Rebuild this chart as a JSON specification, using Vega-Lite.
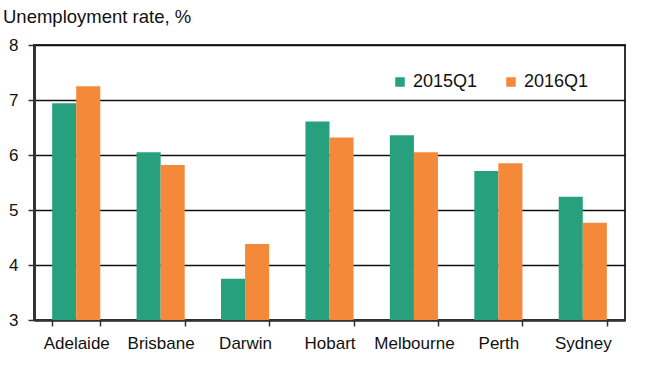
{
  "$schema": "https://vega.github.io/schema/vega-lite/v6.json",
  "autosize": {"type": "none"},
  "padding": {"left": 34, "top": 45, "right": 25, "bottom": 45},
  "width": 591,
  "height": 275,
  "background": "white",
  "title": {
    "text": "Unemployment rate, %",
    "anchor": "start",
    "frame": "group",
    "font": "Liberation Sans",
    "fontSize": 18.5,
    "fontWeight": "normal",
    "color": "#111111",
    "dx": -31,
    "offset": 10
  },
  "data": {
    "values": [
      {"city": "Adelaide", "period": "2015Q1", "rate": 6.94},
      {"city": "Adelaide", "period": "2016Q1", "rate": 7.25},
      {"city": "Brisbane", "period": "2015Q1", "rate": 6.05},
      {"city": "Brisbane", "period": "2016Q1", "rate": 5.82},
      {"city": "Darwin", "period": "2015Q1", "rate": 3.75},
      {"city": "Darwin", "period": "2016Q1", "rate": 4.38},
      {"city": "Hobart", "period": "2015Q1", "rate": 6.61},
      {"city": "Hobart", "period": "2016Q1", "rate": 6.32},
      {"city": "Melbourne", "period": "2015Q1", "rate": 6.36},
      {"city": "Melbourne", "period": "2016Q1", "rate": 6.05},
      {"city": "Perth", "period": "2015Q1", "rate": 5.71},
      {"city": "Perth", "period": "2016Q1", "rate": 5.85},
      {"city": "Sydney", "period": "2015Q1", "rate": 5.24},
      {"city": "Sydney", "period": "2016Q1", "rate": 4.77}
    ]
  },
  "mark": {"type": "bar", "clip": true},
  "encoding": {
    "x": {
      "field": "city",
      "type": "nominal",
      "sort": null,
      "scale": {"paddingInner": 0.43, "paddingOuter": 0.215},
      "axis": {
        "title": null,
        "labelAngle": 0,
        "labelFont": "Liberation Sans",
        "labelFontSize": 17,
        "labelColor": "#111111",
        "labelPadding": 9,
        "tickBand": "extent",
        "tickSize": 6,
        "tickColor": "#333333",
        "tickWidth": 1.5,
        "domainColor": "#333333",
        "domainWidth": 2.5
      }
    },
    "y": {
      "field": "rate",
      "type": "quantitative",
      "scale": {"domain": [3, 8], "zero": false, "nice": false},
      "axis": {
        "title": null,
        "values": [3, 4, 5, 6, 7, 8],
        "labelFont": "Liberation Sans",
        "labelFontSize": 17,
        "labelColor": "#111111",
        "labelPadding": 10,
        "tickSize": 6,
        "tickColor": "#333333",
        "tickWidth": 1.5,
        "domainColor": "#333333",
        "domainWidth": 3,
        "grid": true,
        "gridColor": "#111111",
        "gridWidth": 1.6
      }
    },
    "xOffset": {"field": "period", "type": "nominal"},
    "color": {
      "field": "period",
      "type": "nominal",
      "scale": {"domain": ["2015Q1", "2016Q1"], "range": ["#27a07e", "#f5893a"]},
      "legend": {
        "title": null,
        "orient": "none",
        "direction": "horizontal",
        "legendX": 357,
        "legendY": 28,
        "symbolType": "square",
        "symbolSize": 90,
        "symbolStrokeWidth": 0,
        "labelFont": "Liberation Sans",
        "labelFontSize": 18,
        "labelColor": "#111111",
        "labelOffset": 4,
        "columnPadding": 24
      }
    }
  },
  "config": {
    "view": {"stroke": "#333333", "strokeWidth": 2}
  }
}
